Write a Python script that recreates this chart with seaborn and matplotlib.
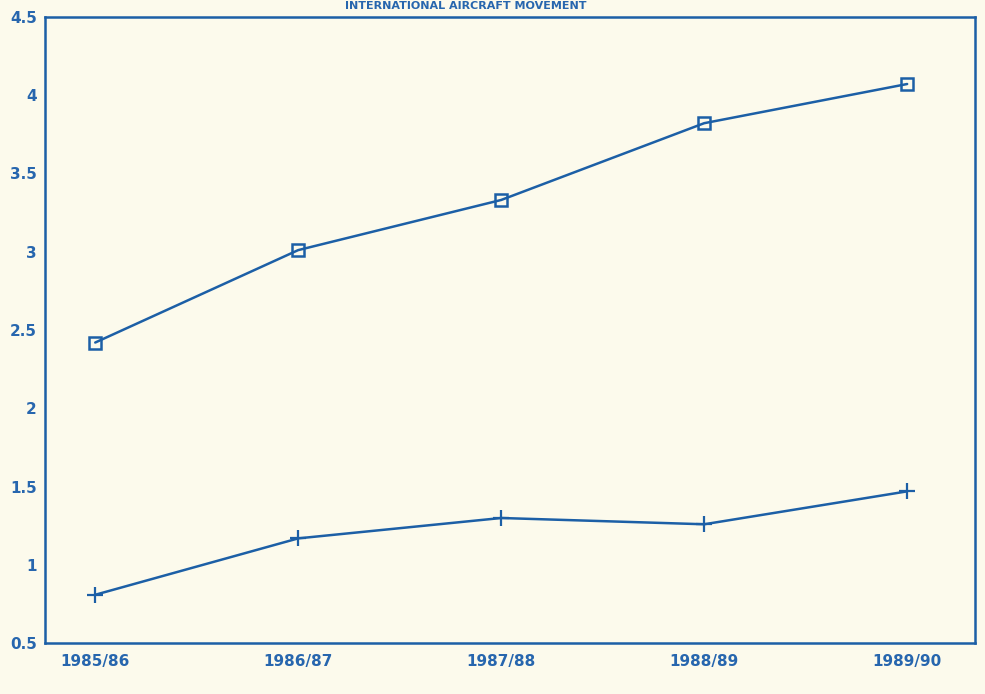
import matplotlib
matplotlib.use("Agg")
import matplotlib.pyplot as plt
import seaborn as sns
import pandas as pd

years = ["1985/86", "1986/87", "1987/88", "1988/89", "1989/90"]
series_upper = [2.42, 3.01, 3.33, 3.82, 4.07]
series_lower = [0.81, 1.17, 1.30, 1.26, 1.47]
y_ticks = [0.5, 1, 1.5, 2, 2.5, 3, 3.5, 4, 4.5]
y_tick_labels = ["0.5", "1", "1.5", "2", "2.5", "3", "3.5", "4", "4.5"]
title = "INTERNATIONAL AIRCRAFT MOVEMENT"

blue = "#1c5fa6"
text_blue = "#2766ae"
bg = "#fcfaec"

sns.set_style("white", {"axes.facecolor": bg, "figure.facecolor": bg})
plt.rcParams["font.family"] = ["DejaVu Sans"]

df = pd.DataFrame({
    "year": years * 2,
    "value": series_upper + series_lower,
    "series": ["upper"] * len(years) + ["lower"] * len(years),
})

fig = plt.figure(figsize=(9.85, 6.94), dpi=100)
ax = fig.add_axes([0.046, 0.073, 0.944, 0.903])

sns.lineplot(data=df[df.series == "upper"], x="year", y="value", ax=ax,
             color=blue, linewidth=1.8, marker="s", markersize=8,
             markerfacecolor="none", markeredgecolor=blue, markeredgewidth=1.8,
             sort=False)
sns.lineplot(data=df[df.series == "lower"], x="year", y="value", ax=ax,
             color=blue, linewidth=1.8, marker="+", markersize=12,
             markeredgecolor=blue, markeredgewidth=1.6, sort=False)

ax.set_xlim(-0.246, 4.335)
ax.set_ylim(0.5, 4.5)
ax.set_yticks(y_ticks)
ax.set_yticklabels(y_tick_labels)
ax.set_xticks(range(len(years)))
ax.set_xticklabels(years)
ax.set_xlabel("")
ax.set_ylabel("")

for s in ax.spines.values():
    s.set_visible(True)
    s.set_color(blue)
    s.set_linewidth(1.8)

ax.tick_params(axis="both", direction="in", color=blue, width=1.5, length=9,
               labelcolor=text_blue, labelsize=11)
ax.tick_params(axis="y", pad=6)
ax.tick_params(axis="x", pad=8)
for lbl in ax.get_xticklabels() + ax.get_yticklabels():
    lbl.set_fontweight("bold")

fig.text(0.473, 0.9985, title, ha="center", va="top", fontsize=8,
         fontweight="bold", color=text_blue)

fig.savefig("out.png", dpi=100, facecolor=bg)
